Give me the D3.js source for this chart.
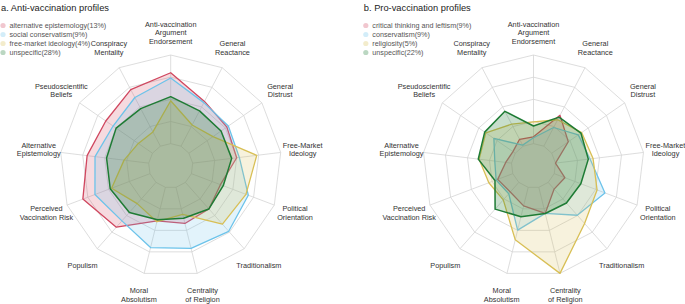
<!DOCTYPE html>
<html><head><meta charset="utf-8">
<script src="https://cdn.jsdelivr.net/npm/d3@7"></script>
<style>body{margin:0;background:#fff}svg{display:block}text{font-family:"Liberation Sans",Arial,sans-serif}</style>
</head><body><svg id="c" width="685" height="304"></svg>
<script>
// axis labels (clockwise from top)
const axisLabels = [
  ["Anti-vaccination","Argument","Endorsement"],
  ["General","Reactance"],
  ["General","Distrust"],
  ["Free-Market","Ideology"],
  ["Political","Orientation"],
  ["Traditionalism"],
  ["Centrality","of Religion"],
  ["Moral","Absolutism"],
  ["Populism"],
  ["Perceived","Vaccination Risk"],
  ["Alternative","Epistemology"],
  ["Pseudoscientific","Beliefs"],
  ["Conspiracy","Mentality"]
];
const titles = ["a. Anti-vaccination profiles", "b. Pro-vaccination profiles"];

const antiNames = ["alternative epistemology(13%)","social conservatism(9%)","free-market ideology(4%)","unspecific(28%)"];
const antiAltEpist   = [0.80,0.57,0.52,0.50,0.35,0.40,0.42,0.39,0.675,0.81,0.70,0.64,0.72];
const antiSocCons    = [0.74,0.555,0.54,0.53,0.686,0.737,0.71,0.70,0.58,0.664,0.61,0.54,0.62];
const antiFreeMarket = [0.484,0.27,0.33,0.728,0.658,0.63,0.314,0.40,0.32,0.463,0.28,0.194,0.182];
const antiUnspecific = [0.53,0.45,0.44,0.443,0.384,0.40,0.36,0.376,0.453,0.48,0.479,0.498,0.478];

const proNames = ["critical thinking and leftism(9%)","conservatism(9%)","religiosity(5%)","unspecific(22%)"];
const proCritLeft    = [0.077,0.393,0.227,0.0,0.128,0.101,0.303,0.216,0.145,0.182,0.066,0.032,0.088];
const proConserv     = [0.066,0.238,0.364,0.393,0.612,0.495,0.303,0.497,0.171,0.201,0.19,0.293,0.013];
const proReligiosity = [0.246,0.337,0.41,0.427,0.517,0.619,1.0,0.61,0.264,0.289,0.368,0.404,0.28];
const proUnspecific  = [0.199,0.37,0.40,0.373,0.321,0.31,0.304,0.341,0.403,0.215,0.378,0.419,0.444];

const colors = ["#d0475f","#6cc3ea","#d8bf55","#1e7b34"];

const R = 110.8, cy = 165.8;
const panels = [
  {x0: 0, cx: 170.7, names: antiNames, series: [antiAltEpist, antiSocCons, antiFreeMarket, antiUnspecific], title: titles[0]},
  {x0: 362.8, cx: 533.5, names: proNames, series: [proCritLeft, proConserv, proReligiosity, proUnspecific], title: titles[1]}
];

const svg = d3.select("#c");
const n = axisLabels.length;
const ang = i => i * 2 * Math.PI / n;
const r = d3.scaleLinear().domain([0, 1]).range([R / 5, R]);
const ringVals = [0, 0.25, 0.5, 0.75, 1];

panels.forEach(p => {
  const g = svg.append("g");
  g.append("text").attr("x", p.x0 + 1).attr("y", 11).attr("font-size", 9.3).attr("fill", "#222").text(p.title);
  const c = g.append("g").attr("transform", `translate(${p.cx},${cy})`);
  const ringLine = d3.lineRadial().angle((d, i) => ang(i)).radius(d => d).curve(d3.curveLinearClosed);
  ringVals.forEach(v => {
    c.append("path").attr("d", ringLine(d3.range(n).map(() => r(v))))
      .attr("fill", "none").attr("stroke", "#d4d4d4").attr("stroke-width", 0.8);
  });
  d3.range(n).forEach(i => {
    const a = ang(i);
    c.append("line")
      .attr("x1", r(0) * Math.sin(a)).attr("y1", -r(0) * Math.cos(a))
      .attr("x2", r(1) * Math.sin(a)).attr("y2", -r(1) * Math.cos(a))
      .attr("stroke", "#d4d4d4").attr("stroke-width", 0.8);
  });
  const line = d3.lineRadial().angle((d, i) => ang(i)).radius(d => r(d)).curve(d3.curveLinearClosed);
  p.series.forEach((s, k) => {
    c.append("path").attr("d", line(s))
      .attr("fill", colors[k]).attr("fill-opacity", k === 3 ? 0.25 : 0.2)
      .attr("stroke", colors[k]).attr("stroke-width", k === 3 ? 1.5 : 1.3)
      .attr("stroke-linejoin", "round");
  });
  const lh = 8.3;
  axisLabels.forEach((lab, i) => {
    const a = ang(i), rr = R * 1.2;
    const x = rr * Math.sin(a), y = -rr * Math.cos(a);
    const t = c.append("text").attr("text-anchor", "middle").attr("font-size", 7.3).attr("fill", "#333");
    lab.forEach((ln, j) => {
      t.append("tspan").attr("x", x).attr("y", y + (j - (lab.length - 1) / 2) * lh).attr("dy", "0.35em").text(ln);
    });
  });
  const lg = g.append("g").attr("transform", `translate(${p.x0},0)`);
  p.names.forEach((nm, k) => {
    const y = 25.5 + k * 9;
    lg.append("circle").attr("cx", 3).attr("cy", y).attr("r", 2.6).attr("fill", colors[k]).attr("fill-opacity", 0.3);
    lg.append("text").attr("x", 9.5).attr("y", y).attr("dy", "0.35em").attr("font-size", 7.2).attr("fill", "#555").text(nm);
  });
});
</script></body></html>
